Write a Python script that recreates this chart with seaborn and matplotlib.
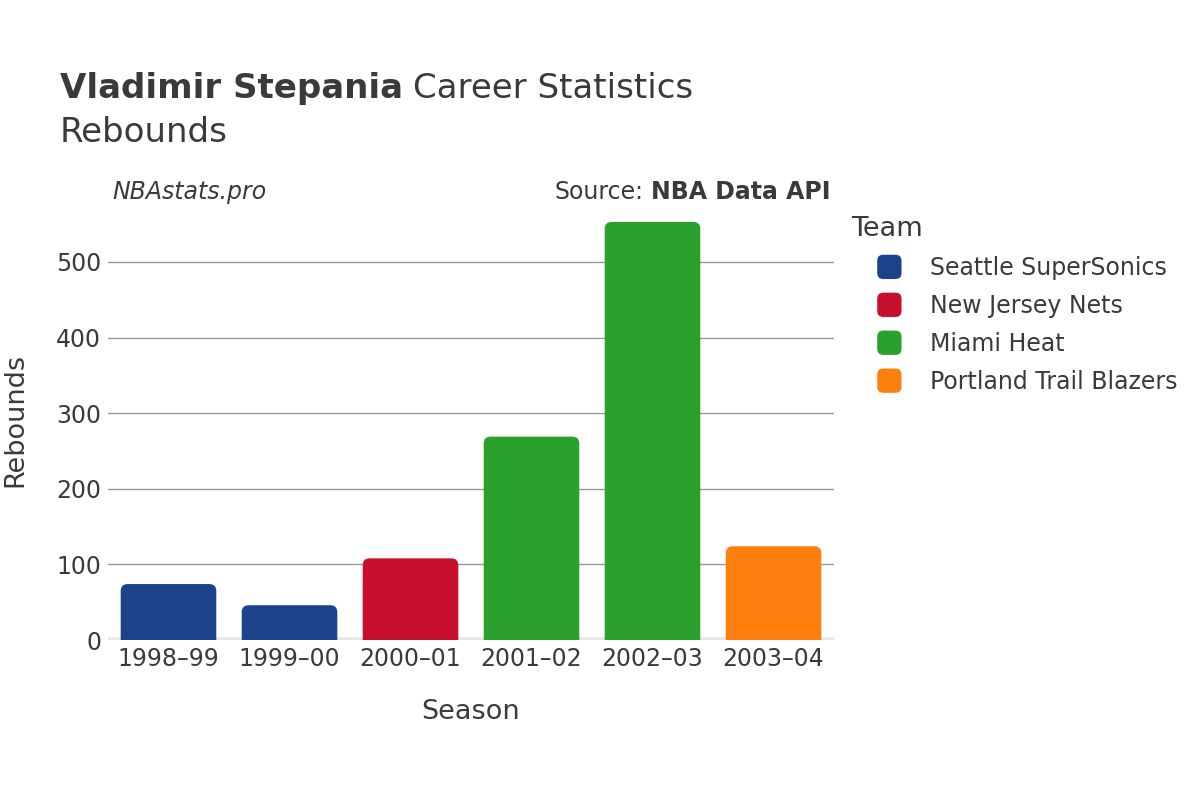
import pandas as pd
import matplotlib
matplotlib.use("Agg")
import matplotlib.pyplot as plt
import seaborn as sns
from matplotlib.patches import FancyBboxPatch
from matplotlib.legend_handler import HandlerPatch

# data
seasons = ["1998–99", "1999–00", "2000–01", "2001–02", "2002–03", "2003–04"]
rebounds = [74, 46, 108, 269, 553, 124]
teams = ["Seattle SuperSonics", "Seattle SuperSonics", "New Jersey Nets",
         "Miami Heat", "Miami Heat", "Portland Trail Blazers"]
team_order = ["Seattle SuperSonics", "New Jersey Nets", "Miami Heat", "Portland Trail Blazers"]
team_colors = ["#1b428a", "#c8102e", "#2ca02c", "#ff7f0e"]

df = pd.DataFrame({"season": seasons, "rebounds": rebounds, "team": teams})

sns.set_style("white")
plt.rcParams['font.family'] = ['DejaVu Sans']
text_color = "#3a3a3a"

fig = plt.figure(figsize=(12, 8), dpi=100)
ax = fig.add_axes([0.09, 0.2, 0.605, 0.55])

sns.barplot(data=df, x="season", y="rebounds", hue="team", hue_order=team_order,
            palette=team_colors, dodge=False, width=0.79, saturation=1,
            ax=ax, legend=False, zorder=3)

ax.set_ylim(0, 582)
ax.set_xlim(-0.5, 5.5)

# swap plain bars for rounded ones
px_x = 726 / 6.0
px_y = 440 / 582
r_px = 7
for p in list(ax.patches):
    x0, w, h = p.get_x(), p.get_width(), p.get_height()
    col = p.get_facecolor()
    p.remove()
    if h <= 0:
        continue
    rr = r_px / px_x
    fb = FancyBboxPatch((x0, -12), w, h + 12,
                        boxstyle=f"round,pad=0,rounding_size={rr}",
                        mutation_aspect=(r_px / px_y) / rr,
                        facecolor=col, edgecolor="none", zorder=3, clip_on=True)
    ax.add_patch(fb)

ax.set_yticks([0, 100, 200, 300, 400, 500])
ax.yaxis.grid(True, color="#999999", linewidth=1, zorder=0)
ax.axhline(0, color="#e6e6e6", linewidth=4, zorder=2)
for s in ax.spines.values():
    s.set_visible(False)
ax.tick_params(axis="both", labelsize=17, colors=text_color, length=0, pad=5)
ax.set_xlabel("Season", fontsize=19.5, color=text_color, labelpad=20)
ax.set_ylabel("Rebounds", fontsize=19.5, color=text_color, labelpad=20)


# rounded legend keys
def rounded_key(legend, orig_handle, xdescent, ydescent, width, height, fontsize):
    s = min(width, height) * 1.15
    return FancyBboxPatch((-xdescent + (width - s) / 2, -ydescent + (height - s) / 2), s, s,
                          boxstyle=f"round,pad=0,rounding_size={s * 0.25}",
                          facecolor=orig_handle.get_facecolor(), edgecolor="none")


handles = [FancyBboxPatch((0, 0), 1, 1, facecolor=c, edgecolor="none") for c in team_colors]
leg = ax.legend(handles, team_order, title="Team", loc="upper left",
                bbox_to_anchor=(1.047, 0.985), frameon=False, fontsize=17,
                title_fontsize=19.5, handlelength=1.0, handleheight=1.0,
                handletextpad=1.22, labelspacing=0.59, borderaxespad=0,
                handler_map={FancyBboxPatch: HandlerPatch(patch_func=rounded_key)})
leg._legend_box.align = "left"
for t in leg.get_texts():
    t.set_color(text_color)
leg.get_title().set_color(text_color)
leg.get_title().set_position((-26, 0))

# title
t1 = fig.text(0.05, 0.889, "Vladimir Stepania", fontsize=24.5, fontweight="bold",
              color=text_color, va="center")
fig.canvas.draw()
bb = t1.get_window_extent()
fig.text(bb.x1 / 1200 + 0.008, 0.889, "Career Statistics", fontsize=24.5,
         color=text_color, va="center")
fig.text(0.05, 0.834, "Rebounds", fontsize=24.5, color=text_color, va="center")

fig.text(0.094, 0.76, "NBAstats.pro", fontsize=17, style="italic",
         color=text_color, va="center")
s2 = fig.text(0.692, 0.76, "NBA Data API", fontsize=17, fontweight="bold",
              color=text_color, va="center", ha="right")
fig.canvas.draw()
bb2 = s2.get_window_extent()
fig.text(bb2.x0 / 1200 - 0.006, 0.76, "Source:", fontsize=17,
         color=text_color, va="center", ha="right")

fig.savefig("out.png", dpi=100)
